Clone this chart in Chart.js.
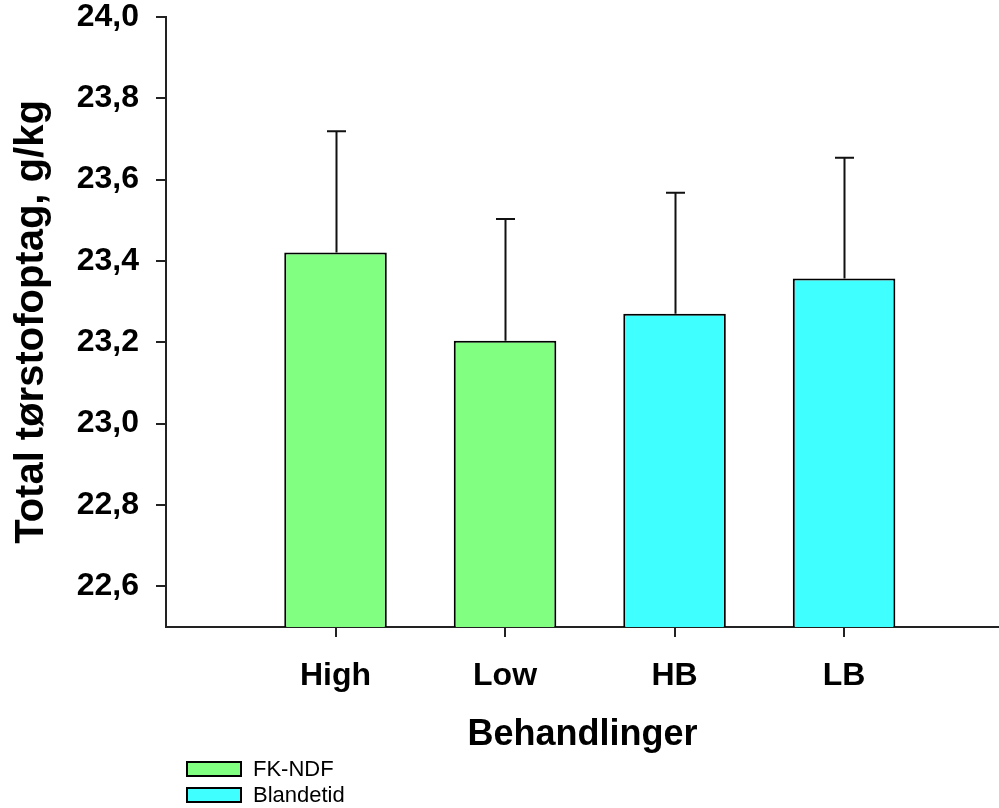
<!DOCTYPE html>
<html>
<head>
<meta charset="utf-8">
<title>Total tørstofoptag</title>
<script src="https://cdn.jsdelivr.net/npm/chart.js@4.4.0/dist/chart.umd.min.js"></script>
<style>
  html, body { margin: 0; padding: 0; background: #fff; }
  #wrap { width: 999px; height: 808px; }
</style>
</head>
<body>
<div id="wrap"><canvas id="chart" width="999" height="808"></canvas></div>
<script>
// data
const categories = ["High", "Low", "HB", "LB"];
const groups = ["FK-NDF", "Blandetid"];
const groupOf = [0, 0, 1, 1];
const means = [23.421, 23.204, 23.270, 23.357];
const errors = [0.298, 0.299, 0.298, 0.297];
const yTicks = [22.6, 22.8, 23.0, 23.2, 23.4, 23.6, 23.8, 24.0];
const groupColors = ["#80FF80", "#40FFFF"];

const FONT = "'Liberation Sans', Arial, Helvetica, sans-serif";

const datasets = groups.map((g, gi) => ({
    label: g,
    data: categories
        .map((c, i) => ({ x: i + 1, y: means[i], err: errors[i], g: groupOf[i] }))
        .filter((p) => p.g === gi),
    backgroundColor: groupColors[gi],
    borderColor: "#000",
    borderWidth: 2,
    borderSkipped: "bottom",
    barPercentage: 0.605,
    categoryPercentage: 1.0,
}));

// upward error bars with a cap
const errorBars = {
    id: "errorBars",
    afterDatasetsDraw(chart) {
        const { ctx, scales: { y } } = chart;
        ctx.save();
        ctx.strokeStyle = "#111";
        ctx.lineWidth = 2;
        chart.data.datasets.forEach((ds, di) => {
            const meta = chart.getDatasetMeta(di);
            meta.data.forEach((bar, i) => {
                const p = ds.data[i];
                const top = y.getPixelForValue(p.y + p.err);
                const x = Math.round(bar.x) + 0.5;
                ctx.beginPath();
                ctx.moveTo(x, bar.y);
                ctx.lineTo(x, top);
                ctx.moveTo(x - 9.5, top);
                ctx.lineTo(x + 9.5, top);
                ctx.stroke();
            });
        });
        ctx.restore();
    },
};

// legend stacked in the bottom-left corner
const cornerLegend = {
    id: "cornerLegend",
    afterDraw(chart) {
        const { ctx } = chart;
        ctx.save();
        groups.forEach((g, gi) => {
            const top = 762 + gi * 26;
            ctx.fillStyle = groupColors[gi];
            ctx.fillRect(187, top, 54, 14);
            ctx.strokeStyle = "#000";
            ctx.lineWidth = 2;
            ctx.strokeRect(187, top, 54, 14);
            ctx.fillStyle = "#000";
            ctx.font = "22px " + FONT;
            ctx.textBaseline = "middle";
            ctx.fillText(g, 253, top + 8);
        });
        ctx.restore();
    },
};

new Chart(document.getElementById("chart"), {
    type: "bar",
    data: { datasets },
    options: {
        responsive: false,
        animation: false,
        layout: { padding: { top: 17, left: 8, right: 0, bottom: 51 } },
        plugins: {
            legend: { display: false },
            tooltip: { enabled: false },
        },
        scales: {
            x: {
                type: "linear",
                min: 0,
                max: 4.914,
                offset: false,
                stacked: true,
                afterBuildTicks: (scale) => {
                    scale.ticks = categories.map((c, i) => ({ value: i + 1 }));
                },
                afterFit: (scale) => {
                    scale.height = 130;
                    scale.paddingLeft = 0;
                    scale.paddingRight = 0;
                },
                border: { display: true, color: "#222", width: 2 },
                grid: {
                    offset: false,
                    drawOnChartArea: false,
                    drawTicks: true,
                    tickLength: 10,
                    color: "#222",
                    lineWidth: 2,
                },
                ticks: {
                    padding: 20,
                    color: "#000",
                    font: { family: FONT, size: 32, weight: "bold" },
                    maxRotation: 0,
                    callback: (v) => categories[v - 1] || "",
                },
                title: {
                    display: true,
                    text: "Behandlinger",
                    color: "#000",
                    font: { family: FONT, size: 36, weight: "bold" },
                    padding: 0,
                },
            },
            y: {
                min: 22.5,
                max: 24.0,
                stacked: false,
                afterBuildTicks: (scale) => {
                    scale.ticks = yTicks.map((v) => ({ value: v }));
                },
                afterFit: (scale) => {
                    scale.width = 158;
                    scale.paddingTop = 0;
                    scale.paddingBottom = 0;
                },
                border: { display: true, color: "#222", width: 2 },
                grid: {
                    drawOnChartArea: false,
                    drawTicks: true,
                    tickLength: 10,
                    color: "#222",
                    lineWidth: 2,
                },
                ticks: {
                    padding: 17,
                    color: "#000",
                    font: { family: FONT, size: 32, weight: "bold", lineHeight: 1 },
                    callback: (v) => v.toFixed(1).replace(".", ","),
                },
                title: {
                    display: true,
                    text: "Total tørstofoptag, g/kg",
                    color: "#000",
                    font: { family: FONT, size: 40, weight: "bold" },
                    padding: 0,
                },
            },
        },
    },
    plugins: [errorBars, cornerLegend],
});
</script>
</body>
</html>
